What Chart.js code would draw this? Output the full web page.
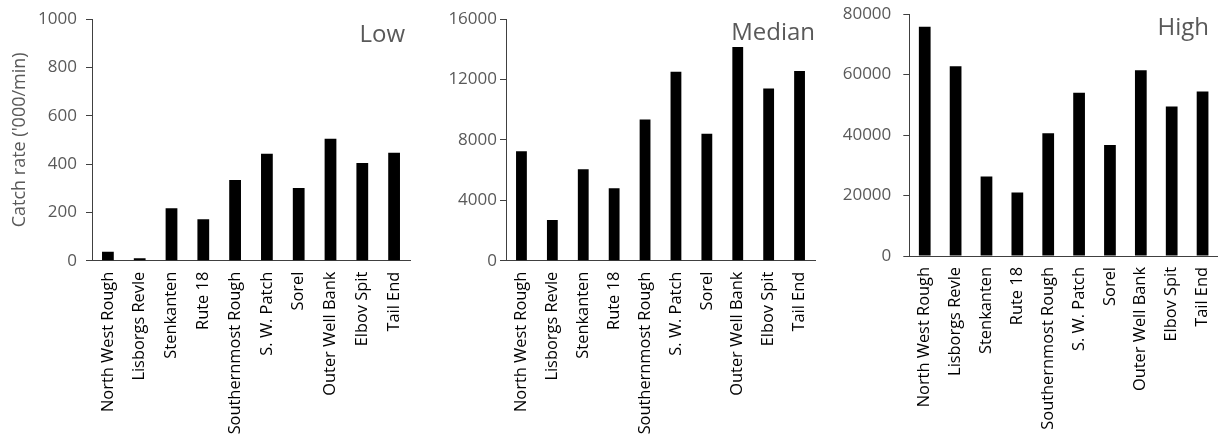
<!DOCTYPE html>
<html>
<head>
<meta charset="utf-8">
<script src="https://cdn.jsdelivr.net/npm/chart.js@4"></script>
<style>
  html, body { margin: 0; padding: 0; background: #ffffff; }
  body { width: 1218px; height: 440px; position: relative; overflow: hidden; }
  .panel { position: absolute; top: 0; height: 440px; }
</style>
</head>
<body>
<div class="panel" id="p-low" style="left:0px;width:412px"><canvas id="c-low"></canvas></div>
<div class="panel" id="p-med" style="left:420px;width:397px"><canvas id="c-med"></canvas></div>
<div class="panel" id="p-high" style="left:830px;width:388px"><canvas id="c-high"></canvas></div>
<script>
// Fishing grounds along the x axis
const categories = ['North West Rough', 'Lisborgs Revle', 'Stenkanten', 'Rute 18', 'Southernmost Rough',
                    'S. W. Patch', 'Sorel', 'Outer Well Bank', 'Elbov Spit', 'Tail End'];

// Catch rate ('000/min) per ground, one array per scenario
const lowValues    = [37, 10, 217, 171, 334, 443, 301, 505, 404, 447];
const medianValues = [7250, 2700, 6050, 4800, 9350, 12500, 8400, 14150, 11400, 12550];
const highValues   = [75800, 62700, 26300, 21000, 40600, 54000, 36700, 61400, 49400, 54400];

// Y axis ranges and tick steps
const lowTicks    = [0, 200, 400, 600, 800, 1000];
const medianTicks = [0, 4000, 8000, 12000, 16000];
const highTicks   = [0, 20000, 40000, 60000, 80000];

const panelNames = ['Low', 'Median', 'High'];
const yAxisTitle = "Catch rate ('000/min)";

const FONT = "'Open Sans', 'Noto Sans', sans-serif";
const GREY = '#595959';
const AXIS = '#404040';

// Draws the scenario name in the top-right corner of the plot area
const panelLabelPlugin = {
  id: 'panelLabel',
  afterDraw(chart, args, opts) {
    const { ctx, chartArea } = chart;
    ctx.save();
    ctx.font = opts.size + 'px ' + FONT;
    ctx.fillStyle = GREY;
    ctx.textAlign = 'right';
    ctx.textBaseline = 'alphabetic';
    ctx.fillText(opts.text, chartArea.right - opts.dx, chartArea.top + opts.dy);
    ctx.restore();
  }
};

function makeChart(canvasId, values, ticks, name, layout) {
  const step = ticks[1] - ticks[0];
  return new Chart(document.getElementById(canvasId), {
    type: 'bar',
    data: {
      labels: categories,
      datasets: [{
        data: values,
        backgroundColor: '#000000',
        borderWidth: 0,
        categoryPercentage: 1.0,
        barPercentage: layout.barPct
      }]
    },
    options: {
      responsive: true,
      maintainAspectRatio: false,
      animation: false,
      layout: { padding: { top: layout.top, right: layout.right, left: 0, bottom: 0 } },
      plugins: {
        legend: { display: false },
        tooltip: { enabled: false },
        panelLabel: { text: name, size: layout.labelSize, dx: layout.labelDx, dy: layout.labelDy }
      },
      scales: {
        x: {
          grid: { display: false, drawTicks: false },
          border: { display: true, color: AXIS, width: 1 },
          ticks: {
            autoSkip: false,
            minRotation: 90,
            maxRotation: 90,
            padding: 11,
            color: '#000000',
            font: { family: FONT, size: 16.4 }
          },
          afterFit(scale) {
            scale.height = layout.xHeight;
            scale.paddingLeft = 0;
            scale.paddingRight = 0;
          }
        },
        y: {
          min: ticks[0],
          max: ticks[ticks.length - 1],
          grid: { display: true, drawOnChartArea: false, drawTicks: true, tickLength: 6, color: AXIS },
          border: { display: true, color: AXIS, width: 1 },
          ticks: {
            stepSize: step,
            padding: layout.tickPad,
            color: GREY,
            font: { family: FONT, size: 17 },
            callback: (v) => String(v)
          },
          title: {
            display: !!layout.yTitle,
            text: layout.yTitle || '',
            color: GREY,
            font: { family: FONT, size: 18 },
            padding: { top: 9, bottom: 0 }
          },
          afterFit(scale) {
            scale.width = layout.yWidth;
            scale.paddingTop = 0;
            scale.paddingBottom = 0;
          }
        }
      }
    },
    plugins: [panelLabelPlugin]
  });
}

makeChart('c-low', lowValues, lowTicks, panelNames[0], {
  top: 19, right: 2, yWidth: 92, xHeight: 179.3, tickPad: 9, barPct: 0.37,
  labelSize: 24, labelDx: 5, labelDy: 23, yTitle: yAxisTitle
});
makeChart('c-med', medianValues, medianTicks, panelNames[1], {
  top: 19, right: 2, yWidth: 86, xHeight: 179.3, tickPad: 3, barPct: 0.35,
  labelSize: 24, labelDx: 0, labelDy: 20.5
});
makeChart('c-high', highValues, highTicks, panelNames[2], {
  top: 14, right: 0, yWidth: 79.3, xHeight: 184, tickPad: 12, barPct: 0.38,
  labelSize: 24, labelDx: 9, labelDy: 20.5
});
</script>
</body>
</html>
